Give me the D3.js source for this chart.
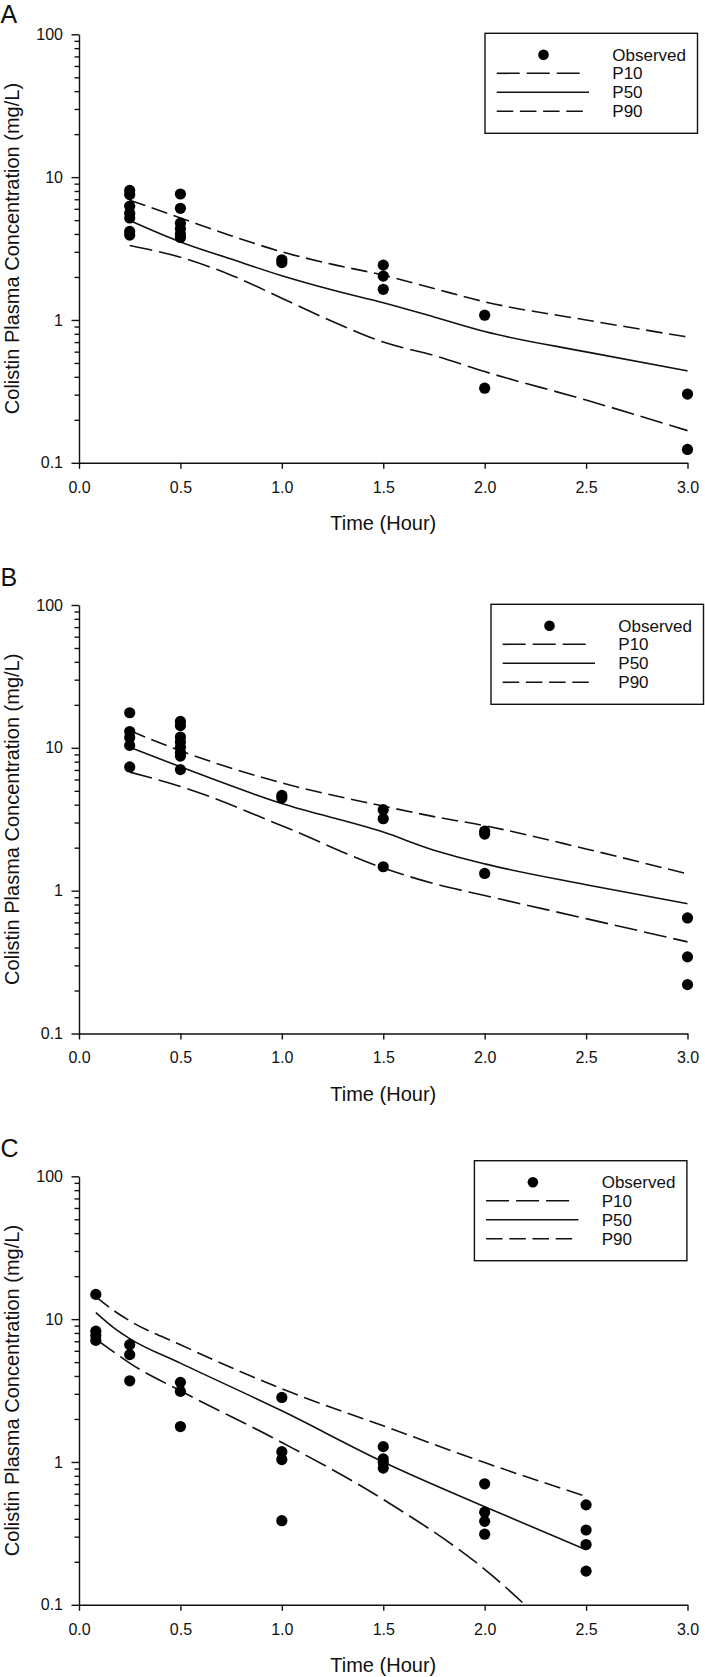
<!DOCTYPE html>
<html><head><meta charset="utf-8">
<script src="https://cdn.jsdelivr.net/npm/d3@7"></script>
<style>
html,body{margin:0;padding:0;background:#fff;}
svg{display:block;}
</style></head><body>
<svg id="chart" width="705" height="1677"></svg>
<script>
// ---------- data ----------
const xTickValues = [0, 0.5, 1, 1.5, 2, 2.5, 3];
const yTickValues = [0.1, 1, 10, 100];
const panelNames = ["A", "B", "C"];
const legendLabels = ["Observed", "P10", "P50", "P90"];
const xTitle = "Time (Hour)";
const yTitle = "Colistin Plasma Concentration (mg/L)";

// Panel A
const obsTimeA = [0.25,0.25,0.25,0.25,0.25,0.25,0.25, 0.5,0.5,0.5,0.5,0.5,0.5, 1,1, 1.5,1.5,1.5, 2,2, 3,3];
const obsConcA = [8.07,7.54,6.26,5.59,5.18,4.17,3.93, 7.62,6.05,4.76,4.36,4.0,3.78, 2.64,2.52, 2.42,2.03,1.64, 1.08,0.333, 0.303,0.124];
const predTimeA = [0.25, 0.5, 0.75, 1, 1.25, 1.5, 1.75, 2, 2.5, 3];
const p10A = [3.32, 2.75, 2.06, 1.42, 0.975, 0.70, 0.564, 0.435, 0.275, 0.168];
const p50A = [4.97, 3.52, 2.67, 2.04, 1.62, 1.32, 1.05, 0.83, 0.598, 0.44];
const p90A = [6.9, 5.18, 3.89, 3.0, 2.45, 2.06, 1.66, 1.34, 1.0, 0.76];

// Panel B
const obsTimeB = [0.25,0.25,0.25,0.25,0.25, 0.5,0.5,0.5,0.5,0.5,0.5,0.5,0.5, 1,1, 1.5,1.5,1.5, 2,2,2, 3,3,3];
const obsConcB = [17.6,13.0,11.8,10.4,7.35, 15.3,14.3,11.9,11.0,10.1,9.27,8.76,7.04, 4.64,4.45, 3.69,3.19,1.47, 2.61,2.49,1.32, 0.644,0.344,0.22];
const predTimeB = [0.25, 0.5, 1, 1.5, 1.75, 2, 2.5, 3];
const p10B = [6.76, 5.37, 2.85, 1.44, 1.12, 0.925, 0.637, 0.438];
const p50B = [10.1, 7.36, 4.07, 2.57, 1.92, 1.54, 1.10, 0.81];
const p90B = [13.2, 9.54, 5.68, 3.91, 3.3, 2.85, 1.96, 1.31];

// Panel C
const obsTimeC = [0.083,0.083,0.083,0.083, 0.25,0.25,0.25, 0.5,0.5,0.5, 1,1,1,1, 1.5,1.5,1.5,1.5, 2,2,2,2, 2.5,2.5,2.5,2.5];
const obsConcC = [14.9,8.24,7.68,7.1, 6.62,5.64,3.70, 3.61,3.12,1.77, 2.83,1.18,1.04,0.388, 1.28,1.05,0.99,0.906, 0.703,0.445,0.384,0.312, 0.501,0.334,0.264,0.172];
const predTimeC = [0.083, 0.167, 0.25, 0.5, 1, 1.5, 2, 2.5];
const p10C = [7.23, 5.95, 4.92, 3.15, 1.37, 0.547, 0.177, 0.038];
const p50C = [11.1, 8.8, 7.31, 4.92, 2.28, 1.0, 0.486, 0.243];
const p90C = [14.3, 11.6, 9.73, 6.62, 3.25, 1.79, 0.99, 0.574];

// ---------- layout ----------
const ink = "#111";
const plotLeft = 79, plotRight = 687.5, plotHeight = 428.5;
const panels = [
  {name: panelNames[0], top: 34.3, labelY: 23, legendX: 485, legendY: 33.3,
   obsT: obsTimeA, obsC: obsConcA, pt: predTimeA, p10: p10A, p50: p50A, p90: p90A},
  {name: panelNames[1], top: 605, labelY: 586, legendX: 491, legendY: 604.3,
   obsT: obsTimeB, obsC: obsConcB, pt: predTimeB, p10: p10B, p50: p50B, p90: p90B},
  {name: panelNames[2], top: 1176.3, labelY: 1157, legendX: 474.4, legendY: 1160.7,
   obsT: obsTimeC, obsC: obsConcC, pt: predTimeC, p10: p10C, p50: p50C, p90: p90C}
];
const dashP10 = "23,7";
const dashP90 = "16.5,6.7";

const svg = d3.select("#chart");
const font = "'Liberation Sans', Arial, sans-serif";

const x = d3.scaleLinear().domain([0, 3]).range([plotLeft, plotRight]);

panels.forEach((p, i) => {
  const bottom = p.top + plotHeight;
  const y = d3.scaleLog().domain([0.1, 100]).range([bottom, p.top]);
  const g = svg.append("g");

  // panel letter
  g.append("text").attr("x", 0.5).attr("y", p.labelY)
    .attr("font-family", font)
    .attr("font-size", 25).attr("fill", ink).text(p.name);

  // clip
  const clipId = "clip" + i;
  svg.append("clipPath").attr("id", clipId).append("rect")
    .attr("x", plotLeft).attr("y", p.top).attr("width", plotRight - plotLeft + 20).attr("height", plotHeight);

  // y axis minor ticks
  const minorVals = y.ticks().filter(v => !yTickValues.some(t => Math.abs(t - v) < 1e-9));
  const yMinor = g.append("g").attr("transform", `translate(${plotLeft},0)`)
    .call(d3.axisLeft(y).tickValues(minorVals).tickSize(4.5).tickSizeOuter(0).tickFormat(""));
  yMinor.select(".domain").remove();
  // y axis major
  const yAx = g.append("g").attr("transform", `translate(${plotLeft},0)`)
    .call(d3.axisLeft(y).tickValues(yTickValues).tickSize(7.5).tickSizeOuter(0).tickPadding(8.5)
      .tickFormat(d => d >= 1 ? d3.format("d")(d) : String(d)));
  // x axis
  const xAx = g.append("g").attr("transform", `translate(0,${bottom})`)
    .call(d3.axisBottom(x).tickValues(xTickValues).tickSize(6).tickSizeOuter(0).tickPadding(12.5)
      .tickFormat(d3.format(".1f")));

  [yAx, xAx, yMinor].forEach(a => {
    a.selectAll("path, line").attr("stroke", ink).attr("stroke-width", 1.4);
    a.selectAll("text").attr("font-family", font).attr("font-size", 16).attr("fill", ink);
  });

  // axis titles
  g.append("text").attr("x", (plotLeft + plotRight) / 2).attr("y", bottom + 67)
    .attr("text-anchor", "middle").attr("font-family", font).attr("font-size", 20)
    .attr("fill", ink).text(xTitle);
  g.append("text")
    .attr("transform", `translate(18.5,${p.top + plotHeight / 2}) rotate(-90)`)
    .attr("text-anchor", "middle").attr("font-family", font).attr("font-size", 20)
    .attr("fill", ink).text(yTitle);

  // prediction lines
  const line = d3.line().x(d => x(d[0])).y(d => y(d[1])).curve(d3.curveMonotoneX);
  const series = [
    {vals: p.p10, dash: dashP10},
    {vals: p.p50, dash: null},
    {vals: p.p90, dash: dashP90}
  ];
  const lg = g.append("g").attr("clip-path", `url(#${clipId})`);
  series.forEach(s => {
    lg.append("path")
      .datum(p.pt.map((t, k) => [t, s.vals[k]]))
      .attr("d", line).attr("fill", "none").attr("stroke", ink).attr("stroke-width", 1.6)
      .attr("stroke-dasharray", s.dash);
  });

  // observed dots
  g.append("g").selectAll("circle")
    .data(p.obsT.map((t, k) => [t, p.obsC[k]]))
    .join("circle")
    .attr("cx", d => x(d[0])).attr("cy", d => y(d[1])).attr("r", 5.6).attr("fill", "#000");

  // legend
  const leg = g.append("g").attr("transform", `translate(${p.legendX},${p.legendY})`);
  leg.append("rect").attr("x", 0).attr("y", 0).attr("width", 212.5).attr("height", 100)
    .attr("fill", "#fff").attr("stroke", ink).attr("stroke-width", 1.4);
  const rowY = [21.5, 40, 59, 78];
  leg.append("circle").attr("cx", 58.5).attr("cy", rowY[0]).attr("r", 5.3).attr("fill", "#000");
  const legLines = [
    {row: 1, x2: 96.7, dash: dashP10},
    {row: 2, x2: 104, dash: null},
    {row: 3, x2: 98.5, dash: dashP90}
  ];
  legLines.forEach(l => {
    leg.append("line").attr("x1", 11.7).attr("x2", l.x2).attr("y1", rowY[l.row]).attr("y2", rowY[l.row])
      .attr("stroke", ink).attr("stroke-width", 1.6).attr("stroke-dasharray", l.dash);
  });
  legendLabels.forEach((lab, k) => {
    leg.append("text").attr("x", 127.3).attr("y", rowY[k]).attr("dy", "0.36em")
      .attr("font-family", font).attr("font-size", 17).attr("fill", ink).text(lab);
  });
});
</script>
</body></html>
